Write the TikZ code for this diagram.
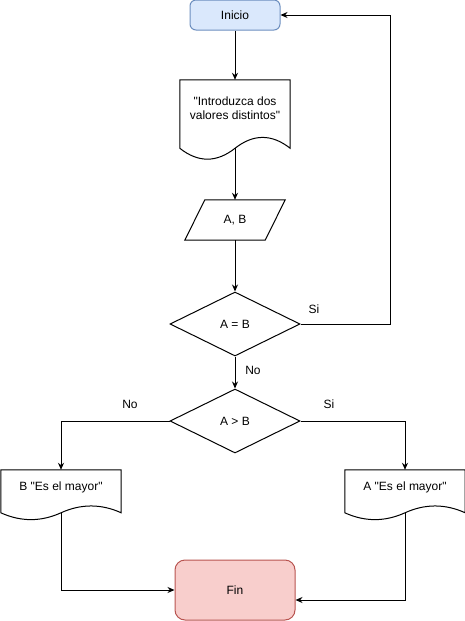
\documentclass[tikz,border=0pt]{standalone}
\usepackage{fontspec}
\setmainfont{Liberation Sans}[Ligatures=TeXOff]
\usetikzlibrary{shapes.geometric, arrows.meta, calc}
\definecolor{startblue}{HTML}{DAE8FC}
\definecolor{startline}{HTML}{6C8EBF}
\definecolor{endred}{HTML}{F8CECC}
\definecolor{endline}{HTML}{B85450}

% wavy document outline around a text node (node = upper 70% of the shape)
\newcommand{\docoutline}[1]{%
  \draw[outline] let \p1=(#1.north west), \p2=(#1.south east),
        \n1={(\y1-\y2)/0.7}, \n2={\x2-\x1} in
    (\x1,\y1) -- (\x2,\y1) -- (\x2,{\y1-0.85*\n1})
    .. controls ({\x1+5/6*\n2},{\y1-0.67*\n1}) and ({\x1+2/3*\n2},{\y1-0.67*\n1})
    .. ({\x1+0.5*\n2},{\y1-0.85*\n1}) coordinate (#1-w)
    .. controls ({\x1+1/3*\n2},{\y1-1.03*\n1}) and ({\x1+1/6*\n2},{\y1-1.03*\n1})
    .. (\x1,{\y1-0.85*\n1}) -- cycle;}

\begin{document}
\begin{tikzpicture}[
    x=1pt, y=-1pt,
    font=\fontsize{12}{14}\selectfont,
    terminal/.style={rectangle, draw, line width=1pt, inner sep=0pt,
                     minimum width=90pt, minimum height=30pt},
    docbox/.style={rectangle, inner sep=0pt, align=center,
                   minimum width=110pt, minimum height=56pt},
    iobox/.style={rectangle, inner sep=0pt,
                  minimum width=80pt, minimum height=40pt},
    decision/.style={diamond, draw, line width=1pt, inner sep=0pt,
                     minimum width=130pt, minimum height=64pt},
    outline/.style={draw, line width=1pt},
    arrow/.style={-{Stealth[length=7pt,width=6pt]}, line width=1pt},
    lbl/.style={inner sep=0pt}
]
\useasboundingbox (0,0) rectangle (465,621);

\node[terminal, rounded corners=6pt, fill=startblue, draw=startline] (start) at (235,15) {Inicio};
\node[docbox] (doc1) at (235,108) {"Introduzca dos\\valores distintos"};
\docoutline{doc1}
\node[iobox] (ab) at (235,220) {A, B};
\draw[outline] ($(ab.north west)+(10,0)$) -- ($(ab.north east)+(10,0)$)
  -- ($(ab.south east)+(-10,0)$) -- ($(ab.south west)+(-10,0)$) -- cycle;
\node[decision] (eq) at (235,324) {A = B};
\node[decision] (gt) at (235,421) {A {>} B};
\node[docbox, minimum width=120pt, minimum height=35pt] (bdoc) at (61,487.5) {B "Es el mayor"};
\docoutline{bdoc}
\node[docbox, minimum width=120pt, minimum height=35pt] (adoc) at (405,487.5) {A "Es el mayor"};
\docoutline{adoc}
\node[terminal, rounded corners=10pt, fill=endred, draw=endline,
      minimum width=120pt, minimum height=60pt] (fin) at (235,590) {Fin};
\coordinate (loop) at (390,15);

\draw[arrow] (start.south) -- (doc1.north);
\draw[arrow] (doc1-w) -- (ab.north);
\draw[arrow] (ab.south) -- (eq.north);
\draw[arrow] (eq.east) -| (loop) -- (start.east);
\draw[arrow] (eq.south) -- (gt.north);
\draw[arrow] (gt.west) -| (bdoc.north);
\draw[arrow] (gt.east) -| (adoc.north);
\draw[arrow] (bdoc-w) |- (fin.west);
\draw[arrow] (adoc-w) |- ([yshift=-10pt]fin.east);

\node[lbl] (si1) at (314,309) {Si};
\node[lbl] (no1) at (253,370) {No};
\node[lbl] (no2) at (130,404) {No};
\node[lbl] (si2) at (329,404) {Si};
\end{tikzpicture}
\end{document}
